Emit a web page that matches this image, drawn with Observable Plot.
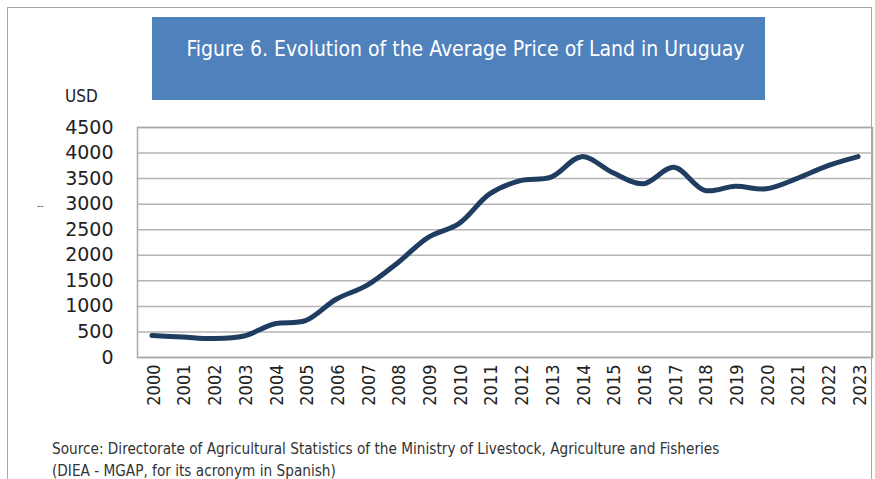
<!DOCTYPE html>
<html>
<head>
<meta charset="utf-8">
<script src="https://cdn.jsdelivr.net/npm/d3@7"></script>
<script src="https://cdn.jsdelivr.net/npm/@observablehq/plot@0.6"></script>
<style>
  html, body { margin: 0; padding: 0; background: #fff; }
  #wrap { position: relative; width: 875px; height: 479px; overflow: hidden; background: #fff; }
  #border { position: absolute; left: 7px; top: 7px; width: 865px; height: 520px; border: 1.5px solid #a6a6a6; box-sizing: border-box; }
  #chart { position: absolute; left: 0; top: 0; }
  #title { position: absolute; left: 152px; top: 17px; width: 613px; height: 83px; background: #4f81bd;
           color: #fff; font-family: "Liberation Sans Narrow", "Arial Narrow", "DejaVu Sans Condensed", sans-serif;
           font-size: 21px; text-align: center; box-sizing: border-box; padding-top: 20px; padding-left: 14px; white-space: nowrap; }
  .lbl { position: absolute; font-family: "Liberation Sans Narrow", "Arial Narrow", "DejaVu Sans Condensed", sans-serif; color: #222; white-space: nowrap; }
  #usd { left: 65px; top: 86px; font-size: 17px; }
  #dash { left: 37px; top: 200px; font-size: 10px; color: #556; }
  #src1 { left: 52px; top: 440px; font-size: 15.2px; color: #333; }
  #src2 { left: 52px; top: 462px; font-size: 15.2px; color: #333; }
</style>
</head>
<body>
<div id="wrap">
  <div id="border"></div>
  <div id="chart"></div>
  <div id="title">Figure 6. Evolution of the Average Price of Land in Uruguay</div>
  <div class="lbl" id="usd">USD</div>
  <div class="lbl" id="dash">--</div>
  <div class="lbl" id="src1">Source: Directorate of Agricultural Statistics of the Ministry of Livestock, Agriculture and Fisheries</div>
  <div class="lbl" id="src2">(DIEA - MGAP, for its acronym in Spanish)</div>
</div>
<script>
const years = ["2000","2001","2002","2003","2004","2005","2006","2007","2008","2009","2010","2011",
               "2012","2013","2014","2015","2016","2017","2018","2019","2020","2021","2022","2023"];
const priceUSD = [430, 400, 370, 420, 660, 720, 1140, 1410, 1850, 2350, 2620, 3200,
                  3460, 3530, 3930, 3620, 3400, 3720, 3270, 3350, 3300, 3500, 3750, 3930];
const yTicks = [0, 500, 1000, 1500, 2000, 2500, 3000, 3500, 4000, 4500];

const data = years.map((y, i) => ({year: y, price: priceUSD[i]}));

const chart = Plot.plot({
  width: 875,
  height: 479,
  marginLeft: 137,
  marginRight: 3,
  marginTop: 127,
  marginBottom: 122,
  style: {fontFamily: "DejaVu Sans", color: "#222", background: "transparent"},
  x: {type: "point", domain: years, padding: 0.47, round: false, label: null},
  y: {domain: [0, 4500], label: null},
  marks: [
    Plot.ruleY(yTicks, {stroke: "#b5b5b5", strokeWidth: 1.5}),
    Plot.frame({stroke: "#a8a8a8", strokeWidth: 1.5}),
    Plot.axisY({ticks: yTicks, tickFormat: d => String(d), tickSize: 0, tickPadding: 24, fontSize: 19, label: null}),
    Plot.axisX({tickRotate: -90, tickSize: 0, tickPadding: 7, fontSize: 18, fontFamily: "DejaVu Sans Condensed", label: null, dx: 2}),
    Plot.line(data, {x: "year", y: "price", curve: "catmull-rom", stroke: "#1f3c61", strokeWidth: 5, strokeLinecap: "round", strokeLinejoin: "round"})
  ]
});
document.getElementById("chart").appendChild(chart);
</script>
</body>
</html>
